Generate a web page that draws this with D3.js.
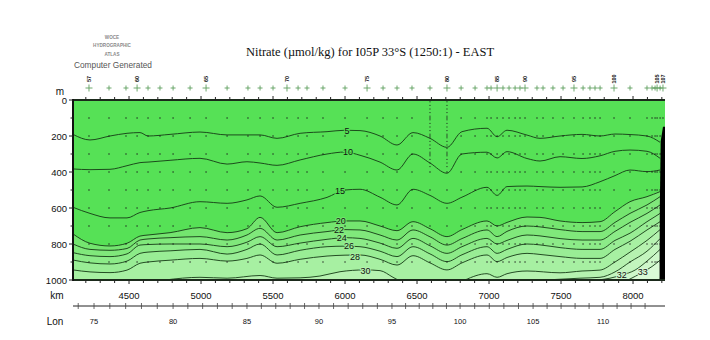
<!DOCTYPE html>
<html><head><meta charset="utf-8">
<script src="https://cdn.jsdelivr.net/npm/d3@7/dist/d3.min.js"></script>
<style>body{margin:0;background:#fff}</style>
</head><body><svg id="c" width="710" height="340"></svg>
<script>
// ---------- data ----------
const kmGrid = [4111,4229,4368,4486,4576,4632,4785,4993,5181,5319,5410,5528,5688,5875,6000,6104,6243,6361,6472,6590,6708,6812,6986,7056,7125,7264,7354,7493,7646,7771,7875,7979,8097,8188];
const dep5  = [191,222,200,185,181,200,191,178,194,194,194,213,185,176,168,170,200,250,181,213,263,176,157,204,168,195,213,200,191,200,189,192,200,235];
const dep10 = [383,387,385,365,348,345,335,324,356,343,350,363,333,300,289,307,345,389,300,350,407,300,290,322,287,325,339,315,325,310,285,278,285,324];
const dep15 = [596,630,655,655,625,615,600,565,574,555,533,596,574,541,500,496,540,583,496,530,574,540,485,530,481,478,481,485,483,454,420,389,398,389];
const dep20 = [744,796,811,796,756,750,737,709,737,715,652,737,704,681,672,672,700,726,676,715,759,720,672,700,680,650,652,672,681,676,620,565,537,509];
const dep22 = [800,830,835,825,778,772,765,759,778,750,713,778,750,731,720,722,750,778,722,760,806,770,722,759,730,700,705,720,731,731,680,630,583,537];
const dep24 = [848,865,870,855,806,803,800,800,815,790,759,815,795,774,765,769,795,824,769,810,852,815,769,800,780,750,755,770,778,778,730,680,630,583];
const dep26 = [889,905,911,895,852,845,838,830,856,830,800,861,835,815,812,815,840,870,815,855,898,860,815,852,830,800,805,820,830,830,780,740,676,630];
const dep28 = [944,955,959,945,907,900,890,880,895,880,861,907,885,867,862,861,885,917,865,905,944,905,861,898,875,852,858,870,880,880,830,785,722,676];

const c30aKm  = [4750,4993,5181,5410,5528,5688,5826,5965,6139,6243,6333,6368];
const c30aDep = [1000,985,990,975,990,988,978,954,944,948,985,1000];
const c30bKm  = [6833,6986,7056,7125,7264,7493,7646,7771,7875,7979,8097,8188];
const c30bDep = [1000,965,985,965,950,960,950,945,900,845,780,720];
const c31Km   = [7389,7632,7771,7875,7979,8097,8188];
const c31Dep  = [1000,990,985,955,900,840,770];
const c32Km   = [7757,7840,7924,8014,8097,8188];
const c32Dep  = [1000,990,972,945,895,830];
const c33Km   = [7965,8069,8132,8188];
const c33Dep  = [1000,956,925,890];

const labelText  = ["5","10","15","20","22","24","26","28","30","32","33"];
const labelKm    = [6014,6021,5965,5970,5958,5977,6028,6069,6143,7921,8067];
const labelDepth = [172,289,506,670,720,767,812,874,948,972,954];

const stationKm = [4222,4361,4479,4556,4632,4715,4806,4924,5035,5181,5326,5410,5500,5597,5674,5736,5847,6000,6153,6264,6361,6465,6590,6708,6806,6903,6986,7014,7056,7097,7139,7181,7215,7250,7333,7375,7444,7514,7590,7653,7701,7736,7771,7868,7979,8097,8132,8153,8167,8188,8208];
const stationLabelKm  = [4222,4556,5035,5597,6153,6708,7056,7250,7590,7868,8167,8208];
const stationLabelNum = ["57","60","65","70","75","80","85","90","95","100","105","107"];
const sampleDepths = [100,200,300,400,500,600,700,800,900];
const denseKm = [6590,6708];
const denseDepths = [10,30,50,70,90,110,130,150,170,190,210,230,250,270,290,310,330,350,370];

const kmTicks = [4500,5000,5500,6000,6500,7000,7500,8000];
const kmMinor = [4200,4300,4400,4500,4600,4700,4800,4900,5000,5100,5200,5300,5400,5500,5600,5700,5800,5900,6000,6100,6200,6300,6400,6500,6600,6700,6800,6900,7000,7100,7200,7300,7400,7500,7600,7700,7800,7900,8000,8100,8200];
const depthTicks = [0,200,400,600,800,1000];
const depthMinor = [100,300,500,700,900];
const lonLabels = [75,80,85,90,95,100,105,110];
const lonKm     = [4257,4806,5319,5819,6326,6799,7306,7792];
const lonMinor  = [74,75,76,77,78,79,80,81,82,83,84,85,86,87,88,89,90,91,92,93,94,95,96,97,98,99,100,101,102,103,104,105,106,107,108,109,110,111,112,113];

const bathyKm    = [8208,8192,8186,8184];
const bathyDepth = [148,230,600,1000];

const baseColor = "#56e156";
const fillLevels = ["20","22","24","26","28","30a","30b","31","32","33"];
const fillColors = ["#74e56f","#80e87b","#8ceb88","#99ed95","#a7f0a2","#b6f2b0","#b6f2b0","#c3f5be","#cef7ca","#daf9d6"];

// ---------- layout ----------
const svg = d3.select("#c");
const L = 73, R = 665, T = 100, B = 280;
const x = d3.scaleLinear().domain([4111, 8222]).range([L, R]);
const y = d3.scaleLinear().domain([0, 1000]).range([T, B]);
const lonScale = d3.scaleLinear().domain(lonLabels).range(lonKm);
const FONT = "Liberation Sans, Arial, sans-serif";

const defs = svg.append("defs");
defs.append("clipPath").attr("id","pc").append("rect")
  .attr("x",L).attr("y",T).attr("width",R-L).attr("height",B-T);

const plot = svg.append("g").attr("clip-path","url(#pc)");
plot.append("rect").attr("x",L).attr("y",T).attr("width",R-L).attr("height",B-T).attr("fill",baseColor);

const contours = {
  "5":  kmGrid.map((k,i)=>[k,dep5[i]]),
  "10": kmGrid.map((k,i)=>[k,dep10[i]]),
  "15": kmGrid.map((k,i)=>[k,dep15[i]]),
  "20": kmGrid.map((k,i)=>[k,dep20[i]]),
  "22": kmGrid.map((k,i)=>[k,dep22[i]]),
  "24": kmGrid.map((k,i)=>[k,dep24[i]]),
  "26": kmGrid.map((k,i)=>[k,dep26[i]]),
  "28": kmGrid.map((k,i)=>[k,dep28[i]]),
  "30a": c30aKm.map((k,i)=>[k,c30aDep[i]]),
  "30b": c30bKm.map((k,i)=>[k,c30bDep[i]]),
  "31": c31Km.map((k,i)=>[k,c31Dep[i]]),
  "32": c32Km.map((k,i)=>[k,c32Dep[i]]),
  "33": c33Km.map((k,i)=>[k,c33Dep[i]])
};
const xMaxKm = x.domain()[1];
const area = d3.area().x(d=>x(d[0])).y0(y(1000)).y1(d=>y(d[1])).curve(d3.curveMonotoneX);
const line = d3.line().x(d=>x(d[0])).y(d=>y(d[1])).curve(d3.curveMonotoneX);

fillLevels.forEach((lv,i)=>{
  const pts = contours[lv].slice();
  const last = pts[pts.length-1];
  if (last[1] < 1000) pts.push([xMaxKm, last[1]]);
  plot.append("path").attr("d", area(pts)).attr("fill", fillColors[i]);
});

Object.keys(contours).forEach(lv=>{
  plot.append("path").attr("d", line(contours[lv]))
    .attr("fill","none").attr("stroke","#153a15").attr("stroke-width",0.9);
});

// sample dots
const dots = plot.append("g").attr("fill","#1a1a1a");
stationKm.forEach(k=>{
  sampleDepths.forEach(d=>{
    dots.append("rect").attr("x",x(k)-0.6).attr("y",y(d)-0.6).attr("width",1.2).attr("height",1.2);
  });
});
denseKm.forEach(k=>{
  denseDepths.forEach(d=>{
    dots.append("rect").attr("x",x(k)-0.5).attr("y",y(d)-0.5).attr("width",1).attr("height",1);
  });
});

// contour labels
function bandColorAt(txt){
  const map = {"5":baseColor,"10":baseColor,"15":baseColor,"20":fillColors[0],"22":fillColors[1],"24":fillColors[2],"26":fillColors[3],"28":fillColors[4],"30":fillColors[5],"32":fillColors[8],"33":fillColors[9]};
  return map[txt];
}
labelText.forEach((t,i)=>{
  plot.append("text").attr("x",x(labelKm[i])).attr("y",y(labelDepth[i]))
    .attr("text-anchor","middle").attr("dominant-baseline","central")
    .attr("font-family",FONT).attr("font-size",9)
    .attr("stroke",bandColorAt(t)).attr("stroke-width",2).attr("paint-order","stroke")
    .attr("fill","#111").text(t);
});

// bathymetry
const bathyPts = bathyKm.map((k,i)=>[k,bathyDepth[i]]);
const bath = [[xMaxKm,bathyDepth[0]]].concat(bathyPts).concat([[xMaxKm,1000]]);
plot.append("path").attr("d", d3.line().x(d=>x(d[0])).y(d=>y(d[1]))(bath)+"Z").attr("fill","#000");

// frame
svg.append("line").attr("x1",L).attr("x2",R).attr("y1",T).attr("y2",T).attr("stroke","#1b2a1b").attr("stroke-width",2);
svg.append("line").attr("x1",L).attr("x2",R).attr("y1",B).attr("y2",B).attr("stroke","#1b2a1b").attr("stroke-width",2);
svg.append("line").attr("x1",L).attr("x2",L).attr("y1",T-1).attr("y2",B+1).attr("stroke","#111").attr("stroke-width",2);

const axG = svg.append("g").attr("stroke","#222").attr("stroke-width",1);
kmMinor.forEach(k=>{
  const big = kmTicks.includes(k);
  axG.append("line").attr("x1",x(k)).attr("x2",x(k)).attr("y1",B).attr("y2",B+(big?4:3));
  axG.append("line").attr("x1",x(k)).attr("x2",x(k)).attr("y1",T).attr("y2",T-(big?4:3));
});
depthTicks.concat(depthMinor).forEach(d=>{
  const big = depthTicks.includes(d);
  axG.append("line").attr("x1",L).attr("x2",L-(big?4:2.5)).attr("y1",y(d)).attr("y2",y(d));
});

// y labels
depthTicks.forEach(d=>{
  svg.append("text").attr("x",L-6).attr("y",y(d)).attr("text-anchor","end").attr("dominant-baseline","central")
    .attr("font-family",FONT).attr("font-size",9.5).attr("fill","#111").text(d);
});
svg.append("text").attr("x",60).attr("y",91).attr("text-anchor","middle").attr("dominant-baseline","central")
  .attr("font-family",FONT).attr("font-size",10).attr("fill","#111").text("m");

// km labels
kmTicks.forEach(k=>{
  svg.append("text").attr("x",x(k)).attr("y",295).attr("text-anchor","middle").attr("dominant-baseline","central")
    .attr("font-family",FONT).attr("font-size",9.5).attr("fill","#111").text(k);
});
svg.append("text").attr("x",57).attr("y",295).attr("text-anchor","middle").attr("dominant-baseline","central")
  .attr("font-family",FONT).attr("font-size",10).attr("fill","#111").text("km");

// lon axis
const lonY = 306;
svg.append("line").attr("x1",L).attr("x2",R).attr("y1",lonY).attr("y2",lonY).attr("stroke","#222").attr("stroke-width",1);
lonMinor.forEach(v=>{
  const px = x(lonScale(v));
  if (px < L || px > R) return;
  svg.append("line").attr("x1",px).attr("x2",px).attr("y1",lonY-3).attr("y2",lonY+3).attr("stroke","#444").attr("stroke-width",0.8);
});
lonLabels.forEach((v,i)=>{
  svg.append("text").attr("x",x(lonKm[i])).attr("y",321).attr("text-anchor","middle").attr("dominant-baseline","central")
    .attr("font-family",FONT).attr("font-size",7.5).attr("fill","#111").text(v);
});
svg.append("text").attr("x",55).attr("y",321).attr("text-anchor","middle").attr("dominant-baseline","central")
  .attr("font-family",FONT).attr("font-size",10).attr("fill","#111").text("Lon");

// stations
const stG = svg.append("g").attr("stroke","#5f9f5f").attr("stroke-width",0.9);
stationKm.forEach(k=>{
  const big = stationLabelKm.includes(k);
  const s = big ? 3.5 : 2.5;
  const px = x(k);
  stG.append("path").attr("d",`M${px-s},88H${px+s}M${px},${88-s}V${88+s}`);
});
stationLabelKm.forEach((k,i)=>{
  svg.append("text").attr("transform",`translate(${x(k)+2},79) rotate(-90)`)
    .attr("text-anchor","middle").attr("font-family",FONT).attr("font-weight","bold")
    .attr("font-size",5.5).attr("fill","#111").text(stationLabelNum[i]);
});

// title & logo
svg.append("text").attr("x",370).attr("y",52).attr("text-anchor","middle").attr("dominant-baseline","central")
  .attr("font-family","Liberation Serif, Times New Roman, serif").attr("font-size",12.5).attr("fill","#111")
  .text("Nitrate (\u00b5mol/kg) for I05P 33\u00b0S (1250:1) - EAST");
const logo = [["WOCE",37],["HYDROGRAPHIC",45.5],["ATLAS",54]];
logo.forEach(l=>{
  svg.append("text").attr("x",112).attr("y",l[1]).attr("text-anchor","middle").attr("dominant-baseline","central")
    .attr("font-family",FONT).attr("font-weight","bold").attr("font-size",4.6).attr("fill","#8a8a8a").text(l[0]);
});
svg.append("text").attr("x",113).attr("y",64.5).attr("text-anchor","middle").attr("dominant-baseline","central")
  .attr("font-family",FONT).attr("font-size",8.3).attr("fill","#555").text("Computer Generated");
</script>
</body></html>
